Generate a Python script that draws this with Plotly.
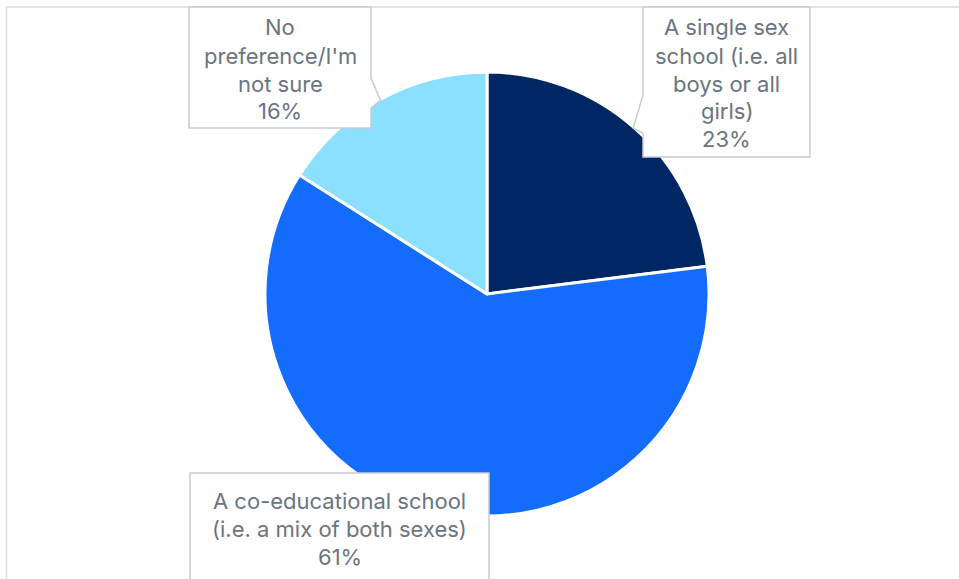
import math
import plotly.graph_objects as go

# ---- data ----
categories = ["A single sex school (i.e. all boys or all girls)",
              "A co-educational school (i.e. a mix of both sexes)",
              "No preference/I'm not sure"]
values = [23, 61, 16]
label_lines = [
    ["A single sex", "school (i.e. all", "boys or all", "girls)"],
    ["A co-educational school", "(i.e. a mix of both sexes)"],
    ["No", "preference/I'm", "not sure"],
]
colors = ["#002664", "#146CFD", "#8CE0FF"]

W, H = 959, 579
CX, CY, R = 487, 294, 222          # pie centre/radius in px

# label boxes (px): x0, y0, x1, y1, pointer side, pointer base
boxes = [
    (643, 7, 810, 157, "left", (95, 133)),
    (190, 473, 489, 600, None, None),
    (189, 7, 371, 128, "right", (78, 108)),
]
text_cx = [726.5, 339.5, 280]
text_top_baseline = [35, 508, 35]
LINE = 28
TEXT_COLOR = "#6A7581"
FONT = "Inter"


def px(x):
    return x / W


def py(y):
    return 1 - y / H


fig = go.Figure()
dom_x = [(CX - R) / W, (CX + R) / W]
dom_y = [1 - (CY + R) / H, 1 - (CY - R) / H]
fig.add_trace(go.Pie(
    labels=categories, values=values, sort=False, direction="clockwise",
    rotation=0, marker=dict(colors=colors, line=dict(color="white", width=3)),
    textinfo="none", hoverinfo="label+percent", showlegend=False,
    domain=dict(x=dom_x, y=dom_y),
))

shapes = []
# outer chart border (cropped at right / bottom)
shapes.append(dict(type="rect", xref="paper", yref="paper",
                   x0=px(6.5), y0=py(H + 10), x1=px(W + 10), y1=py(7),
                   line=dict(color="#D9DDE1", width=1.5), fillcolor="rgba(0,0,0,0)",
                   layer="below"))

total = sum(values)
cum = 0
annotations = []
for i, v in enumerate(values):
    mid = (cum + v / 2) / total * 2 * math.pi
    cum += v
    tipx = CX + (R - 1) * math.sin(mid)
    tipy = CY - (R - 1) * math.cos(mid)
    x0, y0, x1, y1, side, pb_ = boxes[i]
    pa, pb = pb_ or (0, 0)
    pts = [(x0, y0), (x1, y0)]
    if side == "right":
        pts += [(x1, pa), (tipx, tipy), (x1, pb)]
    pts += [(x1, y1), (x0, y1)]
    if side == "left":
        pts += [(x0, pb), (tipx, tipy), (x0, pa)]
    path = "M " + " L ".join(f"{px(a):.5f},{py(b):.5f}" for a, b in pts) + " Z"
    shapes.append(dict(type="path", xref="paper", yref="paper", path=path,
                       fillcolor="white", line=dict(color="#C6CCD1", width=1.5),
                       layer="above"))
    lines = label_lines[i] + [f"{v}%"]
    for k, t in enumerate(lines):
        base = text_top_baseline[i] + k * LINE
        annotations.append(dict(
            text=t, x=px(text_cx[i]), y=py(base - 7.5), xref="paper", yref="paper",
            xanchor="center", yanchor="middle", showarrow=False,
            font=dict(family=FONT, size=22, color=TEXT_COLOR)))

fig.update_layout(width=W, height=H, margin=dict(l=0, r=0, t=0, b=0),
                  paper_bgcolor="white", plot_bgcolor="white",
                  shapes=shapes, annotations=annotations)
fig.write_html("out.html")
